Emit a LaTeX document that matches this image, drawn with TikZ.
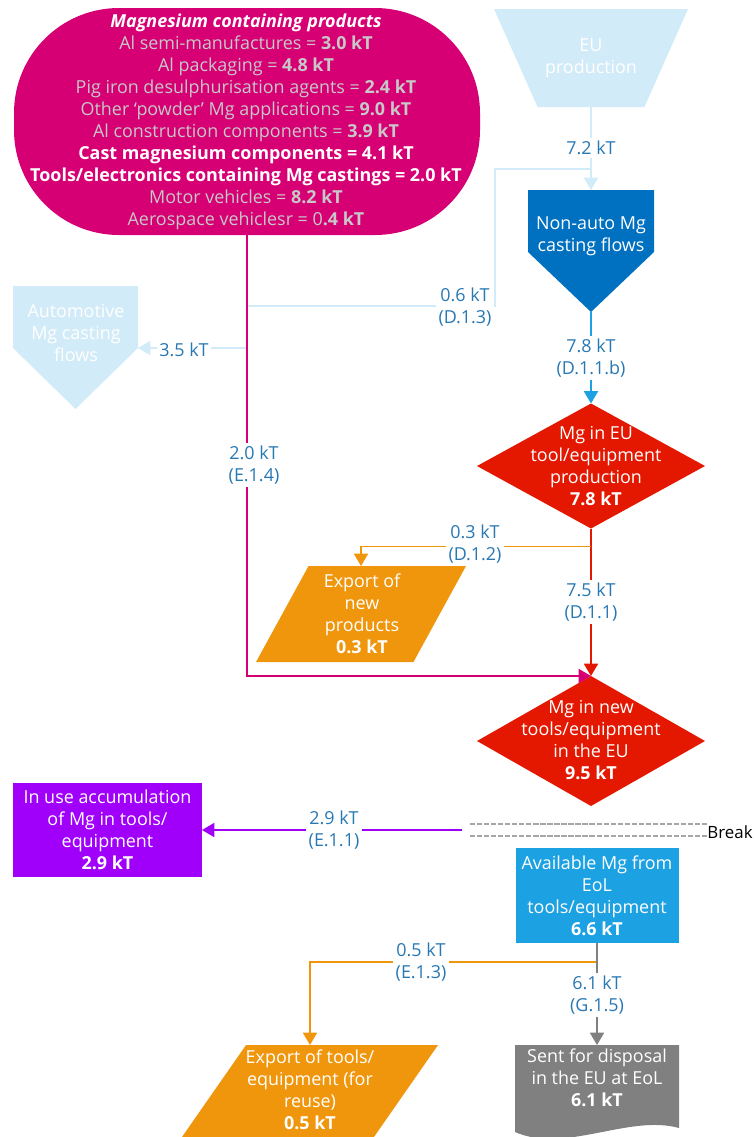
\documentclass[tikz,border=0pt]{standalone}
\usepackage{fontspec}
\setmainfont{Open Sans}
\usetikzlibrary{positioning,shapes.geometric,arrows.meta,calc}

\newcommand\pxu{0.02cm}
\definecolor{prodmag}{RGB}{214,0,116}
\definecolor{prodgray}{RGB}{200,200,200}
\definecolor{lightblu}{RGB}{210,235,248}
\definecolor{castblue}{RGB}{0,112,192}
\definecolor{midblue}{RGB}{28,161,226}
\definecolor{redmg}{RGB}{228,24,0}
\definecolor{orangemg}{RGB}{240,150,12}
\definecolor{purplemg}{RGB}{160,0,250}
\definecolor{graydoc}{RGB}{128,128,128}
\definecolor{lblblue}{RGB}{40,120,180}

\begin{document}
\begin{tikzpicture}[x=\pxu, y=-\pxu,
every node/.style={font=\fontsize{10.2}{12.5}\selectfont, align=center},
shapebox/.style={inner sep=0pt, outer sep=0pt},
txt/.style={text=white, inner sep=0pt},
flowlbl/.style={text=lblblue, fill=white, inner sep=1.5pt},
flow/.style={line width=0.9pt},
tip/.style={-{Triangle[length=7pt,width=8pt]}},
redmond/.style={shapebox, diamond, fill=redmg, minimum width=228*\pxu},
slant/.style={trapezium, inner sep=1pt, outer sep=0pt, trapezium stretches=true,
  trapezium left angle=63.4, trapezium right angle=116.6, fill=orangemg}
]
\useasboundingbox (0,0) rectangle (754,1137);

% source nodes
\node[shapebox, rectangle, rounded corners=2.1cm, fill=prodmag,
  minimum width=466*\pxu, minimum height=227*\pxu] (prod) at (247,121.5) {};
\node[inner sep=0pt] (prod-t) at (246,122) {%
  \textcolor{white}{\textbf{\textit{Magnesium containing products}}}\\
  \textcolor{prodgray}{Al semi-manufactures = \textbf{3.0 kT}}\\
  \textcolor{prodgray}{Al packaging = \textbf{4.8 kT}}\\
  \textcolor{prodgray}{Pig iron desulphurisation agents = \textbf{2.4 kT}}\\
  \textcolor{prodgray}{Other ‘powder’ Mg applications = \textbf{9.0 kT}}\\
  \textcolor{prodgray}{Al construction components = \textbf{3.9 kT}}\\
  \textcolor{white}{\textbf{Cast magnesium components = 4.1 kT}}\\
  \textcolor{white}{\textbf{Tools/electronics containing Mg castings = 2.0 kT}}\\
  \textcolor{prodgray}{Motor vehicles = \textbf{8.2 kT}}\\
  \textcolor{prodgray}{Aerospace vehiclesr = 0\textbf{.4 kT}}};

\node[trapezium, inner sep=1pt, outer sep=0pt, trapezium stretches=true, shape border rotate=180,
  trapezium left angle=67.8, trapezium right angle=67.8, fill=lightblu,
  minimum width=194*\pxu, minimum height=98*\pxu] (eu) at (591,58) {};
\node[txt] (eu-t) at (eu.center) {EU\\production};

% casting flows (pentagons)
\node[shapebox, minimum width=126*\pxu, minimum height=62*\pxu] (nonauto) at (591,221) {};
\coordinate (nonauto-tip) at ($(nonauto.south)+(0,60)$);
\fill[castblue] (nonauto.north west) -- (nonauto.north east) -- (nonauto.south east)
  -- (nonauto-tip) -- (nonauto.south west) -- cycle;
\node[txt] (nonauto-t) at (591,236) {Non-auto Mg\\casting flows};

\node[shapebox, minimum width=125*\pxu, minimum height=62*\pxu] (auto) at (75.5,317) {};
\coordinate (auto-tip) at ($(auto.south)+(0,61)$);
\fill[lightblu] (auto.north west) -- (auto.north east) -- (auto.south east)
  -- (auto-tip) -- (auto.south west) -- cycle;
\node[txt] (auto-t) at (76,333) {Automotive\\Mg casting\\flows};

% tool/equipment stages
\node[redmond, minimum height=125*\pxu] (tooleq) at (591,466) {};
\node[txt] (tooleq-t) at (596,466) {Mg in EU\\tool/equipment\\production\\\textbf{7.8 kT}};

\node[redmond, minimum height=130*\pxu] (newtools) at (591,741) {};
\node[txt] (newtools-t) at (591,740) {Mg in new\\tools/equipment\\in the EU\\\textbf{9.5 kT}};

\node[slant, minimum width=210*\pxu, minimum height=96*\pxu] (expnew) at (361,614) {};
\node[txt] (expnew-t) at (362,614) {Export of\\new\\products\\\textbf{0.3 kT}};

\node[shapebox, fill=purplemg, minimum width=189*\pxu, minimum height=94*\pxu] (inuse) at (107.5,830) {};
\node[txt] (inuse-t) at (inuse.center) {In use accumulation\\of Mg in tools/\\equipment\\\textbf{2.9 kT}};

\node[shapebox, fill=midblue, minimum width=163*\pxu, minimum height=95*\pxu] (avail) at (597,895.5) {};
\node[txt] (avail-t) at (avail.center) {Available Mg from\\EoL\\tools/equipment\\\textbf{6.6 kT}};

\node[slant, minimum width=256*\pxu, minimum height=92*\pxu] (exptools) at (310,1091) {};
\node[txt] (exptools-t) at (310,1090) {Export of tools/\\equipment (for\\reuse)\\\textbf{0.5 kT}};

\node[shapebox, minimum width=164*\pxu, minimum height=75*\pxu] (disp) at (597,1082.5) {};
\fill[graydoc] (disp.south west) -- (disp.north west) -- (disp.north east) -- (disp.south east)
  -- ++(0,8) .. controls +(-50,-14) and +(50,22) .. ($(disp.south west)+(0,12)$) -- cycle;
\node[txt] (disp-t) at (597,1078) {Sent for disposal\\in the EU at EoL\\\textbf{6.1 kT}};

% junctions
\coordinate (j72) at ($(nonauto.north)+(0,-21)$);
\coordinate (j06) at ($(prod.south)+(0,71)$);
\coordinate (j35) at ($(prod.south)+(0,113)$);
\coordinate (j1) at ($(tooleq.south)+(0,18)$);
\coordinate (j2) at ($(avail.south)+(0,19)$);
\coordinate (brk) at (462,830);

% flows
\draw[flow, lightblu, tip] (eu.south) -- (nonauto.north);
\draw[flow, lightblu] (j06) -- ++(248,0) |- (j72);
\draw[flow, lightblu, tip] (j35) -- (auto.south east);
\draw[flow, midblue, tip] (nonauto-tip) -- (tooleq.north);
\draw[flow, prodmag, tip] (prod.south) |- (newtools.north);
\draw[flow, redmg, tip] (tooleq.south) -- (newtools.north);
\draw[flow, orangemg, tip] (j1) -| (expnew.north);
\draw[flow, purplemg, tip] (brk) -- (inuse.east);
\draw[flow, orangemg, tip] (j2) -| (exptools.north);
\draw[flow, graydoc, tip] (avail.south) -- (disp.north);

% break
\node[anchor=east, inner sep=0pt, font=\fontsize{9.6}{12}\selectfont] (brk-t) at (753,832) {Break};
\draw[gray!70, line width=0.6pt, dash pattern=on 3pt off 1pt] (470,824) -- (brk-t.west |- 0,824);
\draw[gray!70, line width=0.6pt, dash pattern=on 3pt off 1pt] (470,836) -- (brk-t.west |- 0,836);

% flow labels
\node[flowlbl] (l72) at (591,148) {7.2 kT};
\node[flowlbl] (l06) at (465,307) {0.6 kT\\(D.1.3)};
\node[flowlbl] (l35) at (184,350) {3.5 kT};
\node[flowlbl] (l78) at (591,358) {7.8 kT\\(D.1.1.b)};
\node[flowlbl] (l20) at (254,465) {2.0 kT\\(E.1.4)};
\node[flowlbl] (l03) at (475,544) {0.3 kT\\(D.1.2)};
\node[flowlbl] (l75) at (591,602) {7.5 kT\\(D.1.1)};
\node[flowlbl] (l29) at (334,830) {2.9 kT\\(E.1.1)};
\node[flowlbl] (l05) at (421,962) {0.5 kT\\(E.1.3)};
\node[flowlbl] (l61) at (597,995) {6.1 kT\\(G.1.5)};
\end{tikzpicture}
\end{document}
